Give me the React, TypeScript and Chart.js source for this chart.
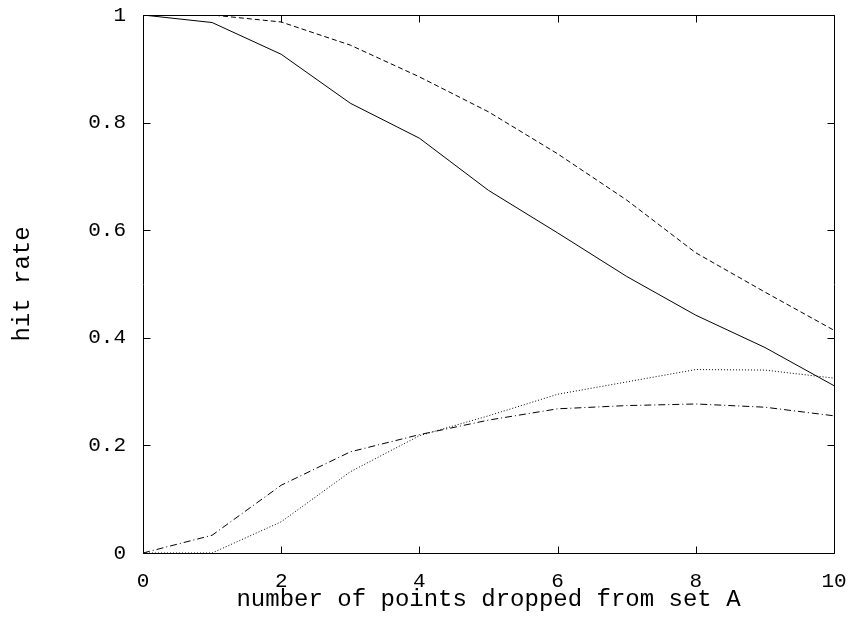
import React, { useEffect, useRef } from "react";
import { Chart, registerables } from "chart.js";

Chart.register(...registerables);

const xValues = [0, 1, 2, 3, 4, 5, 6, 7, 8, 9, 10];
const solidSeries = [1.0, 0.986, 0.927, 0.836, 0.771, 0.674, 0.595, 0.514, 0.442, 0.382, 0.311];
const dashedSeries = [1.0, 1.0, 0.987, 0.944, 0.885, 0.82, 0.742, 0.656, 0.558, 0.485, 0.414];
const dottedSeries = [0.0, 0.0, 0.058, 0.151, 0.218, 0.255, 0.295, 0.318, 0.341, 0.34, 0.325];
const dashDotSeries = [0.0, 0.033, 0.126, 0.188, 0.22, 0.247, 0.268, 0.274, 0.277, 0.271, 0.255];
const xTickValues = [0, 2, 4, 6, 8, 10];
const yTickValues = [0, 0.2, 0.4, 0.6, 0.8, 1];
const xTitle = "number of points dropped from set A";
const yTitle = "hit rate";

const FONT = "'Liberation Mono', 'DejaVu Sans Mono', monospace";

const framePlugin = {
  id: "frame",
  afterDraw(chart: any) {
    const { ctx, chartArea } = chart;
    const xs = chart.scales.x;
    const ys = chart.scales.y;
    const l = Math.round(chartArea.left) + 0.5;
    const r = Math.round(chartArea.right) + 0.5;
    const t = Math.round(chartArea.top) + 0.5;
    const b = Math.round(chartArea.bottom) + 0.5;
    const tl = 7;
    ctx.save();
    ctx.strokeStyle = "#000";
    ctx.lineWidth = 1;
    ctx.setLineDash([]);
    ctx.beginPath();
    ctx.rect(l, t, r - l, b - t);
    xTickValues.forEach((v) => {
      const px = Math.round(xs.getPixelForValue(v)) + 0.5;
      ctx.moveTo(px, b);
      ctx.lineTo(px, b - tl);
      ctx.moveTo(px, t);
      ctx.lineTo(px, t + tl);
    });
    yTickValues.forEach((v) => {
      const py = Math.round(ys.getPixelForValue(v)) + 0.5;
      ctx.moveTo(l, py);
      ctx.lineTo(l + tl, py);
      ctx.moveTo(r, py);
      ctx.lineTo(r - tl, py);
    });
    ctx.stroke();
    ctx.restore();
  },
};

const noEdgePadding = (s: any) => {
  s.paddingLeft = 0;
  s.paddingRight = 0;
  s.paddingTop = 0;
  s.paddingBottom = 0;
};

export default function App() {
  const ref = useRef<HTMLCanvasElement | null>(null);
  useEffect(() => {
    if (!ref.current) return;
    const mk = (data: number[], dash: number[]) => ({
      data: xValues.map((x, i) => ({ x, y: data[i] })),
      borderColor: "#000",
      borderWidth: 1,
      borderDash: dash,
      pointRadius: 0,
      tension: 0,
      fill: false,
    });
    const chart = new Chart(ref.current, {
      type: "line",
      data: {
        datasets: [
          mk(solidSeries, []),
          mk(dashedSeries, [5, 3]),
          mk(dottedSeries, [1, 2]),
          mk(dashDotSeries, [7, 3, 1, 3]),
        ],
      },
      options: {
        animation: false,
        responsive: false,
        devicePixelRatio: 1,
        layout: { padding: { left: 0, top: 15, right: 18, bottom: 0 } },
        plugins: { legend: { display: false }, tooltip: { enabled: false } },
        scales: {
          x: {
            type: "linear",
            min: 0,
            max: 10,
            grid: { display: false, drawTicks: false },
            border: { display: false },
            afterBuildTicks: (s: any) => {
              s.ticks = xTickValues.map((v) => ({ value: v }));
            },
            afterFit: (s: any) => {
              s.height = 65;
              noEdgePadding(s);
            },
            ticks: {
              color: "#000",
              padding: 16,
              maxRotation: 0,
              callback: (v: any) => String(+v),
              font: { family: FONT, size: 21 },
            },
            title: {
              display: true,
              text: xTitle,
              color: "#000",
              font: { family: FONT, size: 24 },
              padding: { top: 0, bottom: 4 },
            },
          },
          y: {
            type: "linear",
            min: 0,
            max: 1,
            grid: { display: false, drawTicks: false },
            border: { display: false },
            afterBuildTicks: (s: any) => {
              s.ticks = yTickValues.map((v) => ({ value: v }));
            },
            afterFit: (s: any) => {
              s.width = 143;
              noEdgePadding(s);
            },
            ticks: {
              color: "#000",
              padding: 17,
              callback: (v: any) => String(+Number(v).toFixed(1)),
              font: { family: FONT, size: 21 },
            },
            title: {
              display: true,
              text: yTitle,
              color: "#000",
              font: { family: FONT, size: 24 },
              padding: { top: 8, bottom: 0 },
            },
          },
        },
      },
      plugins: [framePlugin],
    });
    return () => chart.destroy();
  }, []);
  return (
    <div style={{ position: "absolute", left: 0, top: 0, width: 852, height: 618, background: "#fff" }}>
      <canvas ref={ref} width={852} height={618} style={{ display: "block" }} />
    </div>
  );
}
